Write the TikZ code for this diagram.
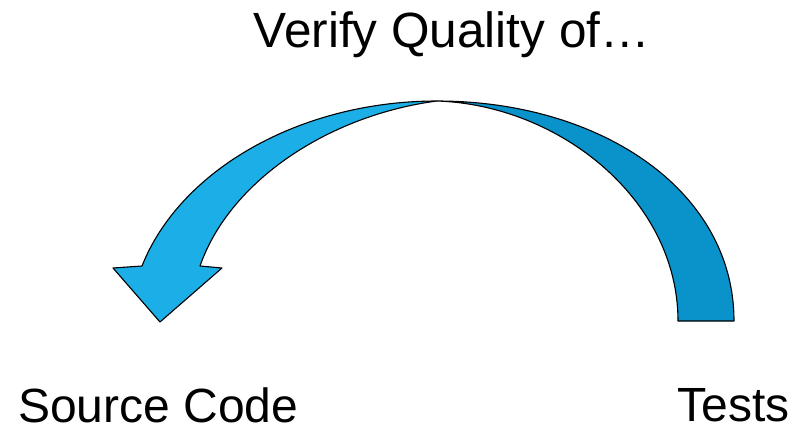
\documentclass[tikz,border=0pt]{standalone}
\usepackage{fontspec}
\setmainfont{Liberation Sans}
\begin{document}
\begin{tikzpicture}[x=1pt,y=-1pt,
  lbl/.style={inner sep=0pt,text depth=0pt,font=\fontsize{48}{56}\selectfont},
  band/.style={draw=black,line width=1.1pt,line join=round}]
\definecolor{frontblue}{RGB}{28,174,230}
\definecolor{backblue}{RGB}{10,146,202}
\useasboundingbox (0,0) rectangle (798,432);
\fill[white] (0,0) rectangle (798,432);
% back band (right side)
\draw[band,fill=backblue] (734,321) .. controls (734,190) and (600,101) .. (437,101)
  .. controls (560,105) and (678,200) .. (678,321) -- cycle;
% front band with arrow head (left side)
\draw[band,fill=frontblue] (437,101) .. controls (300,101) and (180,170) .. (142,266)
  -- (113,268) -- (160,322) -- (222,268) -- (200,266)
  .. controls (230,180) and (330,115) .. (437,101) -- cycle;
\node[lbl,anchor=base,font=\fontsize{49.5}{56}\selectfont] (title) at (452,47) {Verify Quality of…};
\node[lbl,anchor=base west] (src) at (18,422) {Source Code};
\node[lbl,anchor=base east] (tests) at (790,421) {Tests};
\end{tikzpicture}
\end{document}
